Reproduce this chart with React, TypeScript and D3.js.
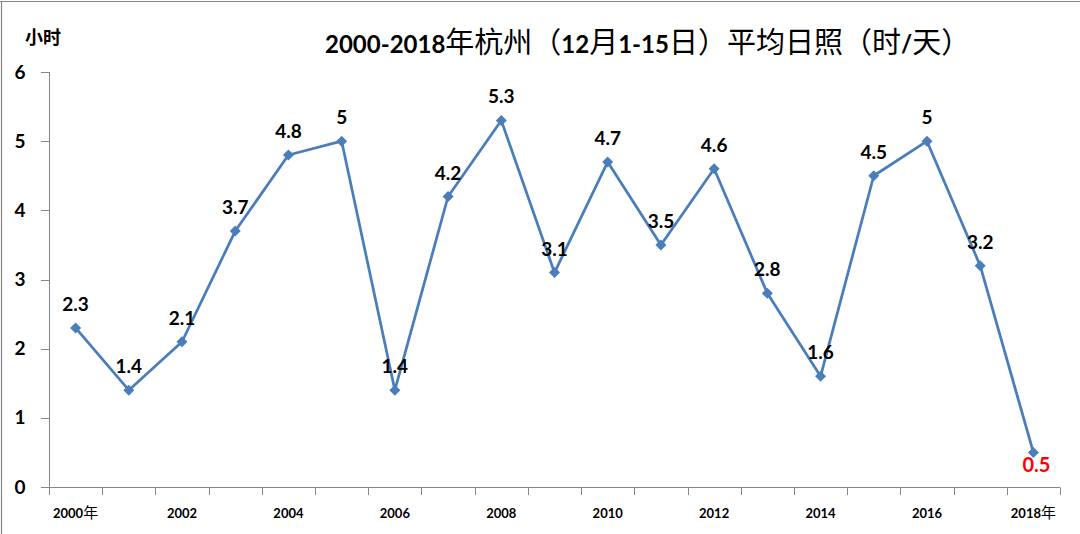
import React from "react";
import * as d3 from "d3";

const years = ["2000","2001","2002","2003","2004","2005","2006","2007","2008","2009","2010","2011","2012","2013","2014","2015","2016","2017","2018"];
const values = [2.3,1.4,2.1,3.7,4.8,5,1.4,4.2,5.3,3.1,4.7,3.5,4.6,2.8,1.6,4.5,5,3.2,0.5];
const xTickLabels: Record<string,string> = {"2000":"2000年","2002":"2002","2004":"2004","2006":"2006","2008":"2008","2010":"2010","2012":"2012","2014":"2014","2016":"2016","2018":"2018年"};
const yTicks = [0,1,2,3,4,5,6];
const title = "2000-2018年杭州（12月1-15日）平均日照（时/天）";
const yUnit = "小时";

const W = 1080, H = 534;
const LATIN = "Lato, 'Open Sans', sans-serif";
const CJK = "'Noto Sans CJK SC', sans-serif";

function runs(s: string) {
  const out: { t: string; cjk: boolean }[] = [];
  for (const ch of s) {
    const cjk = ch.charCodeAt(0) > 0x2e80;
    if (out.length && out[out.length - 1].cjk === cjk) out[out.length - 1].t += ch;
    else out.push({ t: ch, cjk });
  }
  return out;
}

function Mixed({ text, latinSize, cjkSize, cjkWeight = "normal" }: { text: string; latinSize: number; cjkSize: number; cjkWeight?: string }) {
  return (
    <>
      {runs(text).map((r, i) => (
        <tspan key={i} fontFamily={r.cjk ? CJK : LATIN} fontWeight={r.cjk ? cjkWeight : "bold"} fontSize={r.cjk ? cjkSize : latinSize}>
          {r.t}
        </tspan>
      ))}
    </>
  );
}

export default function App() {
  const x = d3.scaleBand<string>().domain(years).range([49, 1060]);
  const y = d3.scaleLinear().domain([0, 6]).range([487, 72]);
  const cx = (d: string) => (x(d) as number) + x.bandwidth() / 2;
  const line = d3.line<number>().x((_, i) => cx(years[i])).y((v) => y(v));
  const boundaries = years.map((d) => x(d) as number).concat([x.range()[1]]);
  const axisColor = "#868686";
  const blue = "#4A7EBB";

  return (
    <svg width={W} height={H} style={{ position: "absolute", left: 0, top: 0, background: "#fff" }}>
      <rect x={0} y={0} width={W} height={H} fill="#fff" />
      <line x1={0} x2={W} y1={1.5} y2={1.5} stroke={axisColor} strokeWidth={1.2} />
      <line x1={1.5} x2={1.5} y1={1} y2={H} stroke={axisColor} strokeWidth={1.2} />

      <text x={325} y={53} textAnchor="start">
        <Mixed text={title} latinSize={24} cjkSize={29} />
      </text>
      <text x={25} y={44} textAnchor="start">
        <Mixed text={yUnit} latinSize={18} cjkSize={18} cjkWeight="bold" />
      </text>

      {/* y axis */}
      <line x1={49.5} x2={49.5} y1={y(6)} y2={y(0)} stroke={axisColor} strokeWidth={1} />
      {yTicks.map((t) => (
        <g key={t}>
          <line x1={41} x2={49.5} y1={Math.round(y(t)) + 0.5} y2={Math.round(y(t)) + 0.5} stroke={axisColor} />
          <text x={20} y={y(t) + 6.5} textAnchor="middle" fontFamily={LATIN} fontWeight="bold" fontSize={19} fill="#000">
            {t}
          </text>
        </g>
      ))}

      {/* x axis */}
      <line x1={49} x2={1060} y1={487.5} y2={487.5} stroke={axisColor} strokeWidth={1} />
      {boundaries.map((b, i) => (
        <line key={i} x1={Math.round(b) + 0.5} x2={Math.round(b) + 0.5} y1={487.5} y2={495} stroke={axisColor} />
      ))}
      {years.filter((d) => xTickLabels[d]).map((d) => (
        <text key={d} x={cx(d)} y={518} textAnchor="middle" fill="#000">
          <Mixed text={xTickLabels[d]} latinSize={13} cjkSize={15} />
        </text>
      ))}

      {/* series */}
      <path d={line(values) || ""} fill="none" stroke={blue} strokeWidth={2.75} strokeLinejoin="round" />
      {values.map((v, i) => {
        const px = cx(years[i]);
        const py = y(v);
        const s = 5.5;
        return (
          <path key={i} d={`M${px},${py - s}L${px + s},${py}L${px},${py + s}L${px - s},${py}Z`} fill={blue} />
        );
      })}
      {values.map((v, i) => {
        const px = cx(years[i]);
        const py = y(v);
        const last = i === values.length - 1;
        return last ? (
          <text key={i} x={px + 3} y={py + 20} textAnchor="middle" fontFamily={LATIN} fontWeight="bold" fontSize={20} fill="#FF0000">
            {v}
          </text>
        ) : (
          <text key={i} x={px} y={py - 17} textAnchor="middle" fontFamily={LATIN} fontWeight="bold" fontSize={19} fill="#000">
            {v}
          </text>
        );
      })}
    </svg>
  );
}
